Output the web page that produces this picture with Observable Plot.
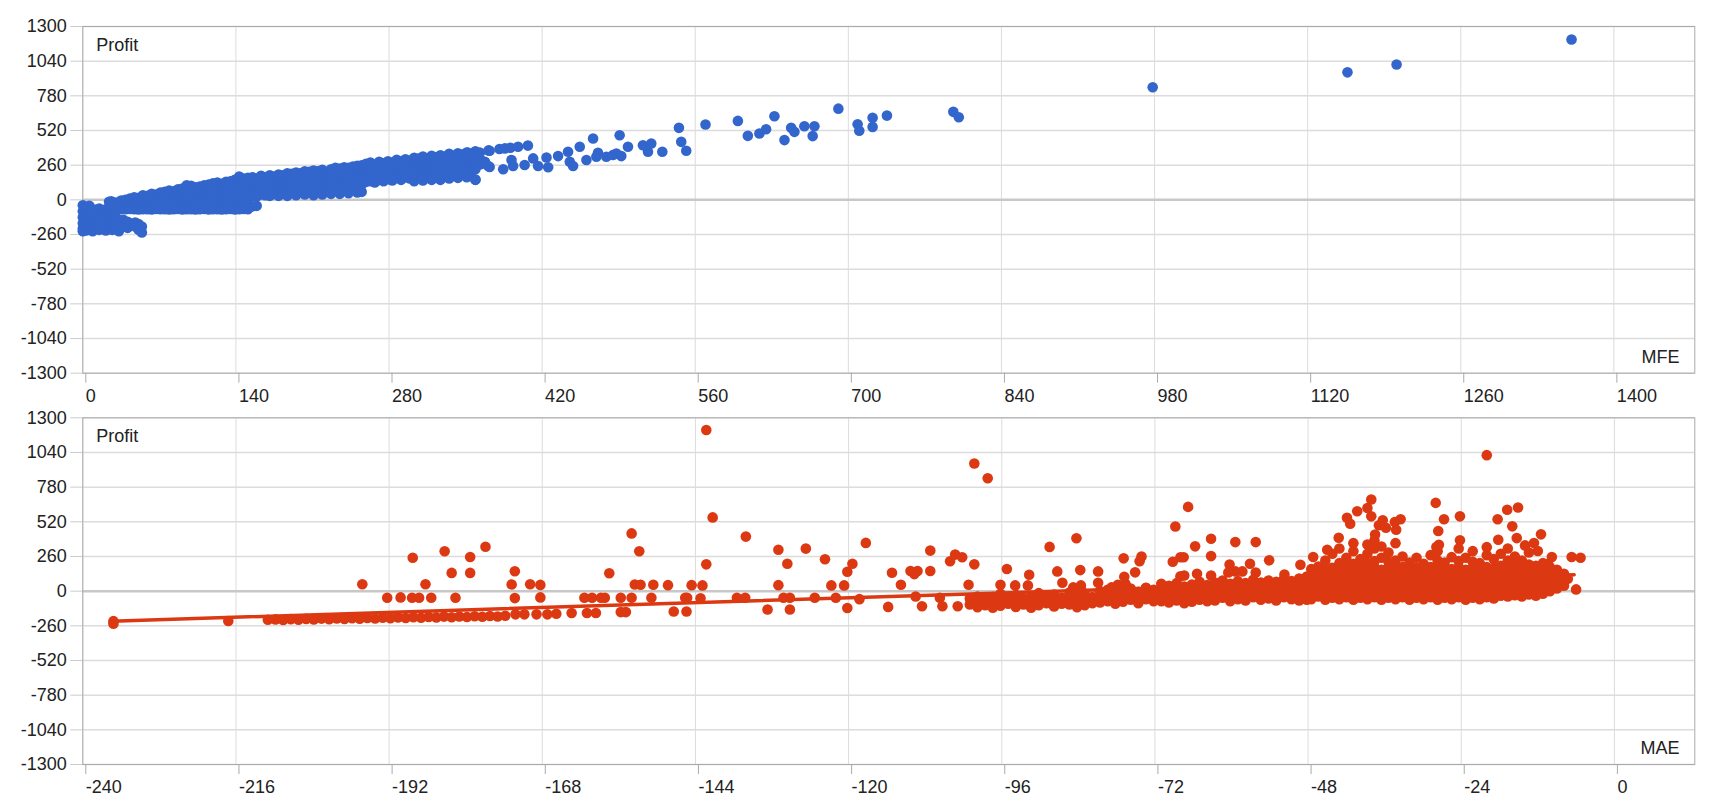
<!DOCTYPE html>
<html><head><meta charset="utf-8">
<script src="https://cdn.jsdelivr.net/npm/d3@7"></script>
<script src="https://cdn.jsdelivr.net/npm/@observablehq/plot@0.6"></script>
<style>body{margin:0;background:#fff} #chart svg{display:block}</style>
</head><body><div id="chart"></div>
<script>
// ---- tick values ----
const profitTicks = [-1300,-1040,-780,-520,-260,0,260,520,780,1040,1300];
const mfeTicks = [0,140,280,420,560,700,840,980,1120,1260,1400];
const maeTicks = [-240,-216,-192,-168,-144,-120,-96,-72,-48,-24,0];

// ---- top panel: Profit vs MFE (dense columns: [MFE, [profits]]) ----
const mfeBand = [
 [0,[-40,-85,-130,-175,-215,-235]],[3,[-60,-110,-150,-195,-230]],[6,[-45,-90,-135,-180,-220]],
 [9,[-70,-115,-160,-205,-235]],[12,[-75,-120,-165,-210]],[15,[-65,-105,-150,-190,-225]],
 [18,[-80,-125,-170,-215]],[21,[-70,-110,-155,-200,-230]],[24,[-15,-60,-100,-140,-185,-220]],
 [27,[-50,-95,-150,-195,-225]],[30,[-20,-65,-130,-175,-215]],[33,[-40,-150,-200,-235]],
 [37,[-150,-195]],[41,[-165,-210]],[44,[-177]],[48,[-170,-200]],[51,[-182,-225]],[54,[-200,-245]],
 [26,[-10,-45,-70]],[35,[-5,-40,-70]],[39,[0,-35,-70]],[43,[10,-30,-68]],[47,[20,-25,-70]],
 [51,[15,-20,-60,-72]],[55,[35,-10,-50,-70]],[59,[30,0,-40,-70]],[63,[45,5,-35,-72]],
 [67,[40,10,-30,-68]],[71,[55,15,-25,-70]],[75,[60,20,-20,-70]],[79,[70,30,-15,-72]],
 [83,[65,25,-30,-70]],[87,[80,35,-10,-68]],[91,[85,45,0,-45,-72]],[95,[110,60,15,-30,-70]],
 [99,[105,55,10,-40,-70]],[103,[95,60,20,-25,-72]],[107,[100,55,15,-35,-70]],[111,[110,70,25,-20,-68]],
 [115,[115,65,20,-30,-72]],[119,[125,75,30,-15,-70]],[123,[130,80,35,-25,-70]],[127,[120,70,40,-10,-72]],
 [131,[135,90,45,0,-45,-70]],[135,[140,85,50,5,-35,-68]],[139,[150,100,55,10,-40,-72]],
 [143,[175,130,80,30,-20,-70]],[147,[160,110,60,15,-35,-68]],[151,[165,120,70,20,-30,-70]],
 [155,[170,125,75,25,-50]],[159,[160,115,70,25,-45]],
 [163,[180,130,85,40]],[167,[170,125,80,35]],[171,[185,140,95,50,30]],[175,[175,135,90,45]],
 [179,[190,145,100,55,30]],[183,[185,140,95,50]],[187,[200,150,105,60,30]],[191,[195,150,100,55]],
 [195,[205,160,110,65,35]],[199,[200,155,110,60]],[203,[215,165,115,70,40]],[207,[210,160,115,70]],
 [211,[220,170,120,75,35]],[215,[215,170,125,80]],[219,[225,175,130,85,40]],[223,[210,165,120,75]],
 [227,[230,180,130,85,45]],[231,[240,185,135,90]],[235,[235,190,140,95,45]],[239,[245,195,145,100]],
 [243,[240,190,140,95,50]],[247,[250,200,150,105]],[251,[255,205,155,110,55]],[255,[260,210,160,115,60]],
 [259,[270,225,180,135]],[263,[280,230,185,140]],[267,[265,220,175,130]],[271,[285,240,195,150]],
 [275,[275,230,185,140]],[279,[290,245,200,155]],[283,[280,235,190,145]],[287,[300,255,210,165]],
 [291,[290,245,200,150]],[295,[305,260,215,170]],[299,[295,250,205,160]],[303,[315,270,225,180,140]],
 [307,[310,265,220,175]],[311,[325,280,235,190,145]],[315,[300,255,210,165]],[319,[330,285,240,195,150]],
 [323,[320,275,230,185]],[327,[335,290,245,200,150]],[331,[325,280,235,190]],[335,[345,300,255,210,160]],
 [339,[330,285,240,195]],[343,[350,305,260,215,165]],[347,[340,295,250,205]],[351,[355,310,265,220,170]],
 [355,[345,300,255,210]],[359,[365,320,275,230,150]],[363,[355,310,265]]
];
const mfeScatter = [
 [352,354],[371,371],[365,272],[372,247],[359,152],
 [367.7,286],[370.7,254],[372,368],[381,381],[386,386],[391,391],[398,398],[407,407],
 [384.4,229],[392,299],[393.5,254],[404,261],[411.8,311],[416.3,254],[425.5,244],[424,318],
 [434.6,328],[443.7,361],[445.3,286],[448.3,254],[454.4,398],[460.5,299],[466.6,460],[469.6,323],
 [471.1,353],[478.7,323],[484.8,336],[487.9,348],[490.9,485],[492.4,328],[498.5,398],[512.2,410],
 [516.8,361],[519.8,423],[529.9,361],[545.1,540],[547.2,435],[551.8,368],[569.4,565],[599,592],
 [608.1,480],[618.7,498],[624.8,530],[632.4,627],[641.6,448],[647.7,540],[650.7,510],[659.8,552],
 [667.4,478],[669,552],[690.9,684],[708.5,567],[710,518],[722.2,615],[722.2,547],[735.3,632],
 [796,660],[801,619],[978.3,844],[1156.4,956],[1201.3,1015],[1361.3,1203]
];

// ---- bottom panel: Profit vs MAE ----
const maeBand = [
 [-211,[-215]],[-209.8,[-212]],[-208.6,[-216]],[-207.4,[-210]],[-206.2,[-214]],[-205,[-208]],
 [-203.8,[-212]],[-202.6,[-206]],[-201.4,[-211]],[-200.2,[-205]],[-199,[-209]],[-197.8,[-203]],
 [-196.6,[-207]],[-195.4,[-201]],[-194.2,[-205]],[-193,[-199]],[-191.8,[-203]],[-190.6,[-197]],
 [-189.4,[-201]],[-188.2,[-195]],[-187,[-199]],[-185.8,[-193]],[-184.6,[-197]],[-183.4,[-191]],
 [-182.2,[-196]],[-181,[-190]],[-179.8,[-194]],[-178.6,[-188]],[-177.4,[-192]],[-176.2,[-186]],
 [-175,[-190]],[-173.8,[-184]],
 [-101,[-55,-100]],[-99.8,[-40,-85,-120]],[-98.6,[-60,-105]],[-97.4,[-45,-90,-125]],[-96.2,[-20,-65,-110]],
 [-95,[-50,-95]],[-93.8,[-30,-75,-118]],[-92.6,[-55,-100]],[-91.4,[-40,-85,-125]],[-90.2,[-15,-60,-105]],
 [-89,[-45,-90]],[-87.8,[-25,-70,-115]],[-86.6,[-50,-95]],[-85.4,[-10,-55,-100]],[-84.2,[-35,-80,-120]],
 [-83,[-20,-60,-105]],[-81.8,[-45,-90]],[-80.6,[0,-40,-85]],[-79.4,[10,-30,-75]],[-78.2,[-15,-55,-95]],
 [-77,[5,-35,-80]],[-75.8,[20,-20,-65]],[-74.6,[-5,-45,-90]],[-73.4,[25,-15,-60]],[-72.2,[10,-30,-75]],
 [-71,[55,15,-30,-75]],[-69.8,[40,0,-45,-85]],[-68.6,[60,20,-25,-70]],[-67.4,[35,-10,-55,-90]],
 [-66.2,[50,10,-35,-80]],[-65,[70,30,-15,-65]],[-63.8,[45,5,-40,-75]],[-62.6,[65,20,-25,-70]],
 [-61.4,[80,40,-5,-50]],[-60.2,[55,15,-30,-75]],[-59,[75,35,-10,-60]],[-57.8,[60,20,-25,-70]],
 [-56.6,[85,45,0,-45]],[-55.4,[65,25,-20,-65]],[-54.2,[80,40,-5,-55]],[-53,[70,30,-15,-70]],
 [-51.8,[90,50,5,-45]],[-50.6,[75,35,-10,-60]],[-49.4,[95,55,10,-40,-70]],[-48.2,[110,70,25,-20,-65]],
 [-47.5,[-60,-15,30,75,120,165]],[-46.4,[-40,5,50,95,140,185]],[-45.3,[-65,-20,25,70,115,160,230]],
 [-44.2,[-50,-5,40,85,130,175,280]],[-43.1,[-60,-15,30,75,120,165,210,320]],
 [-42,[-45,0,45,90,135,180,250]],[-40.9,[-65,-20,25,70,115,160,205,300,360]],
 [-39.8,[-50,-5,40,85,130,175,240]],[-38.7,[-60,-15,30,75,120,165,210,280,350]],
 [-37.6,[-45,0,45,90,135,180,225,320,380]],[-36.5,[-65,-20,25,70,115,160,250,335]],
 [-35.4,[-50,-5,40,85,130,175,220,290]],[-34.3,[-60,-15,30,75,120,165,230,360]],
 [-33.2,[-45,0,45,90,135,180,260]],[-32.1,[-65,-20,25,70,115,160,215]],
 [-31,[-50,-5,40,85,130,175,250]],[-29.9,[-60,-15,30,75,120,165,205]],
 [-28.8,[-45,0,45,90,135,180,270]],[-27.7,[-65,-20,25,70,115,160,230,300]],
 [-26.6,[-50,-5,40,85,130,175,215]],[-25.5,[-60,-15,30,75,120,165,255]],
 [-24.4,[-45,0,45,90,135,180,225,320]],[-23.3,[-65,-20,25,70,115,160,250]],
 [-22.2,[-50,-5,40,85,130,175,220,300]],[-21.1,[-60,-15,30,75,120,165,210]],
 [-20,[-45,0,45,90,135,180,270,330]],[-18.9,[-55,-10,35,80,125,170,240]],
 [-17.8,[-35,10,55,100,145,190,280]],[-16.7,[-40,5,50,95,140,185,230,320]],
 [-15.6,[-30,15,60,105,150,195,260]],[-14.5,[-40,5,50,95,140,185,230]],
 [-13.4,[-25,20,65,110,155,200,290]],[-12.3,[-35,10,55,100,145,190]],
 [-11.2,[-20,25,70,115,160,210]],[-10.1,[0,45,90,135,180]],[-9,[20,65,110,160]],[-7.9,[40,90,130]]
];
const maeScatter = [
 [-235.2,-225],[-235.2,-245],[-217.2,-224],
 [-196.2,52],[-192.3,-50],[-190.2,-47],[-188.4,-50],[-187.3,-50],[-188.3,251],[-186.3,52],[-185.4,-50],
 [-183.3,299],[-182.2,137],[-181.6,-50],[-179.3,256],[-179.3,137],[-176.9,333],[-172.8,50],[-172.3,149],
 [-172.3,-52],[-169.9,52],[-168.3,47],[-168.3,-47],
 [-172.2,-174],[-170.8,-174],[-168.9,-174],[-167.2,-174],[-165.8,-169],[-163.4,-164],[-161,-164],
 [-159.6,-164],[-155.7,-157],[-154.9,-157],
 [-161.4,-50],[-160.2,-50],[-158.8,-50],[-158.2,-50],[-157.5,134],[-155.7,-50],[-154,-50],[-154,433],
 [-153.5,50],[-152.8,299],[-152.6,48],
 [-142.3,1208],[-141.3,553],[-142.3,201],[-142.9,43],[-143.2,-53],
 [-150.6,48],[-150.9,-50],[-148.3,45],[-147.4,-153],[-145.6,-50],[-145.3,-50],[-145.4,-153],[-144.6,45],
 [-136.1,409],[-137.5,-50],[-136.2,-50],[-132.7,-138],[-131,311],[-131,45],[-129.6,206],[-130.2,-50],
 [-129.2,-50],[-129.2,-138],[-126.7,319],[-125.3,-50],[-123.7,239],[-122.7,43],[-122,-50],[-120.7,43],
 [-120.2,146],[-119.4,206],[-120.2,-126],[-118.3,-60],[-117.3,362],[-113.8,-118],[-113.2,138],[-111.8,48],
 [-110.3,151],[-109.7,128],[-109.2,151],[-109.5,-40],[-108.5,-113],[-107.2,304],[-107.2,151],[-105.3,-113],
 [-105.7,-50],[-104.1,224],[-103.3,274],[-102.2,254],[-101.2,48],[-100.3,957],[-98.2,847],[-100.3,201],
 [-102.9,-113],
 [-96.2,48],[-95.2,166],[-93.9,43],[-91.9,43],[-91.7,123],[-88.5,332],[-87.3,148],[-86.5,63],[-84.8,28],
 [-83.6,20],[-84.3,397],[-83.7,158],[-83.6,43],[-80.9,148],[-80.9,63],[-78.8,28],[-77.8,48],[-76.6,53],
 [-76.9,246],[-76.8,108],[-75.1,141],[-74.4,224],[-74.1,259],[-73.4,23],[-70.9,43],[-68.8,485],[-69.2,221],
 [-68,254],[-67.5,254],[-68,111],[-66.8,632],
 [-20,1020],[-65.7,336],[-63.2,393],[-63.2,263],[-59.4,368],[-56.2,368],[-54.1,231],[-60.3,200],
 [-57.1,205],[-60.5,140],[-59.4,148],[-58.3,148],[-56.2,140],[-67.4,117],[-65.4,130],[-63.2,117],
 [-51.7,125],[-49.2,198],[-47.2,256],[-45,311],[-43.2,401],[-41.9,551],[-41.4,506],[-40.3,599],
 [-38.7,624],[-38.1,687],[-38.1,561],[-37.5,424],[-36.9,494],[-36.3,531],[-35.8,476],[-34.4,519],
 [-33.5,539],[-34.2,461],[-28,662],[-26.7,539],[-27.6,451],[-27.5,348],[-27.9,331],[-24.2,561],
 [-24.2,381],[-18.3,539],[-16.8,611],[-15.1,627],[-16,486],[-18.2,386],[-15.3,398],[-11.5,426],
 [-14,343],[-12.6,361],[-12,301],[-9.8,256],[-10.4,205],[-6.7,256],[-5.3,251],[-6,13],[-9,30],[-7.3,93]
];
// linear trendline of the bottom series (end points)
const trendMAE = [-235.5, -6.3];
const trendProfit = [-225, 123];

// ---- build tables ----
const expand = cols => cols.flatMap(([x, ys]) => ys.map(y => ({x, y})));
const topData = expand(mfeBand).concat(mfeScatter.map(([x, y]) => ({x, y})));
const botData = expand(maeBand).concat(maeScatter.map(([x, y]) => ({x, y})));
const trend = trendMAE.map((x, i) => ({x, y: trendProfit[i]}));

const fmt = d => String(d);
const FONT = "Arial, 'Liberation Sans', sans-serif";
const BLUE = "#3366cc", RED = "#dc3912";

function panel({height, marginTop, marginBottom, xDomain, xTicks, data, color, name, withTrend}) {
  return Plot.plot({
    width: 1720, height, marginLeft: 82.3, marginRight: 25.7, marginTop, marginBottom,
    style: {fontFamily: FONT, fontSize: "18px", color: "#222", background: "#fff", overflow: "visible"},
    x: {domain: xDomain, label: null},
    y: {domain: [-1300, 1300], label: null},
    marks: [
      Plot.gridX(xTicks, {stroke: "#dcdcdc", strokeOpacity: 1}),
      Plot.gridY(profitTicks, {stroke: "#dcdcdc", strokeOpacity: 1, strokeWidth: 1.5}),
      Plot.ruleY([0], {stroke: "#c8c8c8", strokeWidth: 2.5}),
      Plot.axisY(profitTicks, {tickSize: 12, tickPadding: 4, tickFormat: fmt, stroke: "#cccccc", fontSize: 18, label: null}),
      Plot.axisX(xTicks, {tickSize: 10, tickPadding: 6, textAnchor: "start", dx: 3, tickFormat: fmt, stroke: "#aaa", fontSize: 18, label: null}),
      Plot.frame({stroke: "#aaa"}),
      Plot.dot(data, {x: "x", y: "y", r: 5.3, fill: color, stroke: null}),
      ...(withTrend ? [Plot.line(trend, {x: "x", y: "y", stroke: color, strokeWidth: 3.5})] : []),
      Plot.text(["Profit"], {text: d => d, frameAnchor: "top-left", dx: 13.4, dy: 18.3, textAnchor: "start", lineAnchor: "middle", fontSize: 18, fill: "#222"}),
      Plot.text([name], {text: d => d, frameAnchor: "bottom-right", dx: -15.3, dy: -16.4, textAnchor: "end", lineAnchor: "middle", fontSize: 18, fill: "#222"})
    ]
  });
}

const chart = document.getElementById("chart");
chart.append(panel({height: 408, marginTop: 26, marginBottom: 35.3, xDomain: [0, 1474], xTicks: mfeTicks, data: topData, color: BLUE, name: "MFE", withTrend: false}));
chart.append(panel({height: 392, marginTop: 9.3, marginBottom: 36, xDomain: [-240, 12.6], xTicks: maeTicks, data: botData, color: RED, name: "MAE", withTrend: true}));
</script></body></html>
